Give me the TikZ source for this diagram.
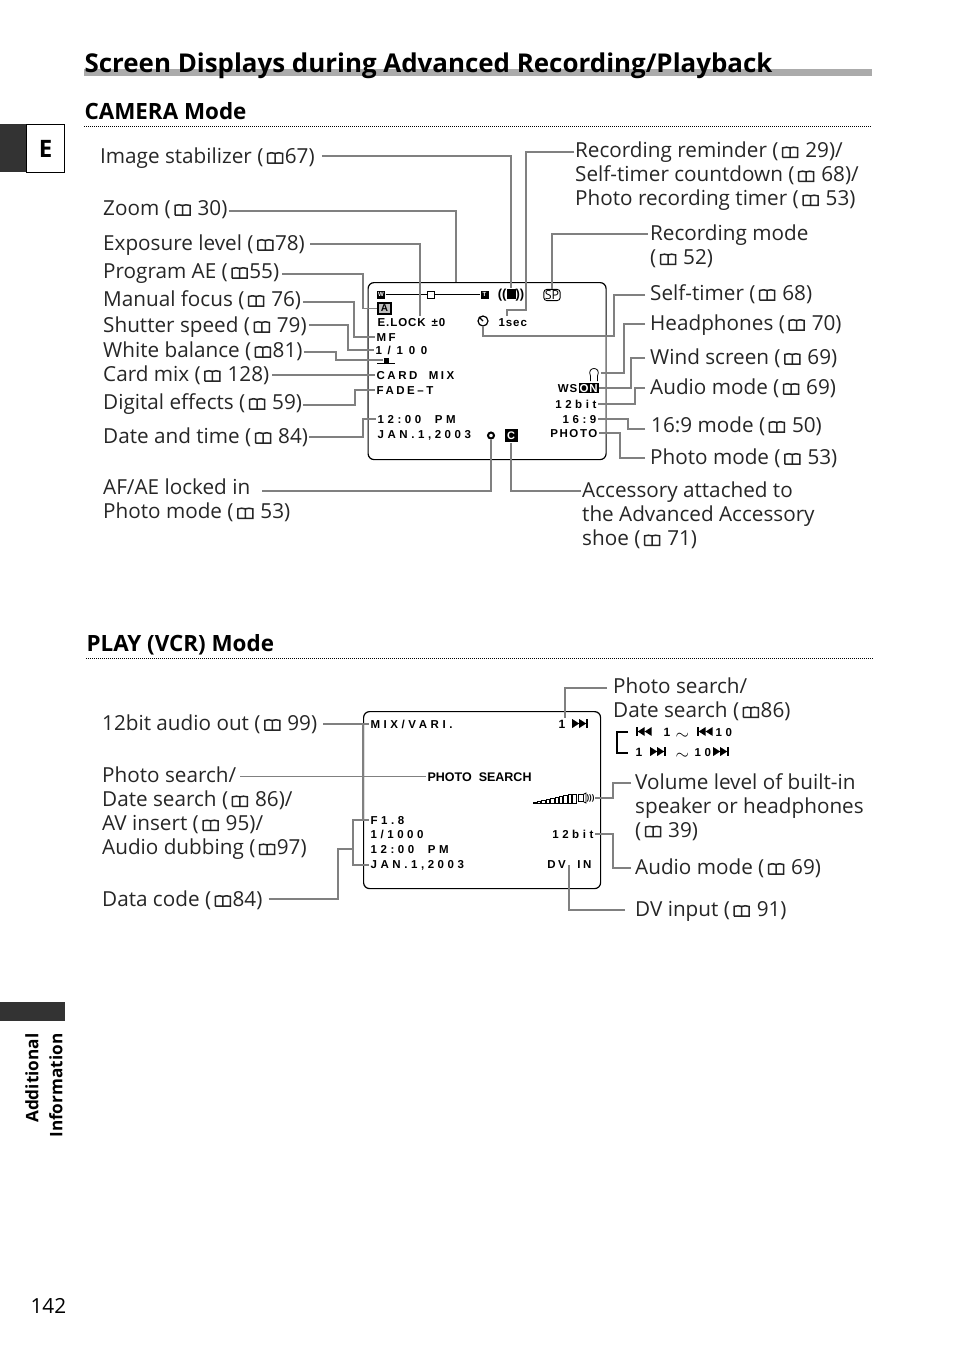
\documentclass[tikz,border=0pt]{standalone}
\usepackage{amsmath}
\usepackage{fontspec}
\setmainfont{Open Sans}
\newfontfamily\osdfont[LetterSpace=22]{Liberation Sans Bold}
\newfontfamily\osdwide[LetterSpace=31]{Liberation Sans Bold}
\newfontfamily\osdtight{Liberation Sans Bold}
\usetikzlibrary{calc}
\newcommand{\bk}{\hspace{3.5pt}\tikz[baseline=0pt,x=1pt,y=1pt]{\draw[line width=1.5pt] (0,0.5) -- (0,10) .. controls (2.5,11) and (5.5,11) .. (7.5,10) .. controls (9.5,11) and (12.5,11) .. (15,10) -- (15,0.5) -- (7.5,0.5) -- (0,0.5) (7.5,0.5) -- (7.5,10);}\hspace{1.5pt}}
\newcommand{\fwdicon}{\tikz[baseline=0pt,x=1pt,y=1pt]{\fill (0,0) -- (0,9) -- (7,4.5) -- cycle (7,0) -- (7,9) -- (14,4.5) -- cycle; \fill (14,0) rectangle (15.5,9);}}
\newcommand{\rewicon}{\tikz[baseline=0pt,x=1pt,y=1pt]{\fill (15.5,0) -- (15.5,9) -- (8.5,4.5) -- cycle (8.5,0) -- (8.5,9) -- (1.5,4.5) -- cycle; \fill (0,0) rectangle (1.5,9);}}
\begin{document}
\begin{tikzpicture}[x=1pt,y=-1pt,line width=1.2pt,
    lbl/.style={anchor=west,inner sep=0pt,font=\fontsize{20.7}{24}\selectfont,text=black!85,text height=19,text depth=4},
    multi/.style={anchor=north west,inner sep=0pt,align=left,font=\fontsize{20.7}{24}\selectfont,text=black!85},
    head/.style={anchor=base west,inner sep=0pt,font=\fontsize{22.4}{24}\selectfont\bfseries},
    osd/.style={anchor=base west,inner sep=1pt,font=\fontsize{11.5}{13}\osdwide},
    osdn/.style={anchor=base west,inner sep=1pt,font=\fontsize{11.5}{13}\osdfont},
    osdb/.style={anchor=base west,inner sep=1pt,font=\fontsize{12}{13}\osdtight},
    osdr/.style={anchor=base east,inner sep=1pt,font=\fontsize{11.5}{13}\osdwide},
    leader/.style={draw=black!50,line width=1.3pt},
    screen/.style={draw,rounded corners=6pt,line width=1.2pt,inner sep=0pt,anchor=north west},
    dots/.style={line width=1pt,dash pattern=on 1pt off 1pt}]
    \useasboundingbox (0,0) rectangle (954,1355);
    % page furniture
    \fill[black!33] (84,69) rectangle (872,76);
    \node (title) [head,font=\fontsize{25.9}{30}\selectfont\bfseries] at (84,72) {Screen Displays during Advanced Recording/Playback};
    \node (camhead) [head] at (84,119) {CAMERA Mode};
    \node (playhead) [head] at (86,651) {PLAY (VCR) Mode};
    \draw[dots] (84,126) -- (871,126);
    \draw[dots] (86,658) -- (873,658);
    \fill[black!80] (0,124) rectangle (26,172);
    \node (tab) [draw,anchor=north west,minimum width=38,minimum height=48,inner sep=0pt,font=\fontsize{24}{28}\selectfont\bfseries] at (26,124) {E};
    \fill[black!80] (0,1002) rectangle (65,1021);
    \node (addinfo) [rotate=90,align=right,anchor=east,inner sep=0pt,font=\fontsize{17.2}{24}\selectfont\bfseries] at (44,1033) {Additional\\Information};
    \node (pageno) [anchor=base west,inner sep=0pt,font=\fontsize{20.8}{24}\selectfont] at (30,1313) {142};

    % camera screen
    \node (camscreen) [screen,minimum width=238,minimum height=177] at (367.5,282) {};
    \node (wsq) [fill,text=white,inner sep=0pt,minimum size=8,font=\fontsize{6}{6}\osdtight] at (381,294.5) {W};
    \node (tsq) [fill,text=white,inner sep=0pt,minimum size=8,font=\fontsize{6}{6}\osdtight] at (484.5,294.5) {T};
    \draw[line width=1.6pt] (wsq) -- (tsq);
    \node (slider) [draw,fill=white,inner sep=0pt,minimum size=7,line width=1pt] at (431,294.5) {};
    \coordinate (zoomtop) at (456,282);
    \node (hand) [inner sep=0pt,font=\fontsize{13}{14}\osdtight] at (511,295) {((\rule{9pt}{10pt}))};
    \node (sp) [draw,rounded corners=3pt,inner sep=1pt,line width=.9pt,font=\fontsize{12.5}{13}\selectfont] at (552,295) {SP};
    \node (aeicon) [draw,fill=black!25,inner sep=1pt,minimum width=13,minimum height=11,font=\fontsize{10}{11}\osdtight] at (384.5,308.5) {A};
    \node (elock) [osdb,font=\fontsize{11.5}{13}\osdtight\addfontfeature{LetterSpace=8}] at (376,326) {E.LOCK \,±0};
    \node (onesec) [osdb,font=\fontsize{11.5}{13}\osdtight\addfontfeature{LetterSpace=8}] at (497,326) {1sec};
    \node (timer) [draw,circle,inner sep=0pt,minimum size=10,line width=1.2pt] at (483,321) {};
    \draw[line width=1.2pt] (timer.center) -- (timer.north west);
    \node (mf) [osdn] at (375,341) {MF};
    \node (speed) [osdn] at (374,354) {1 / 1 0 0};
    \node (wb) [fill,inner sep=0pt,minimum size=5] at (386,360) {};
    \draw[line width=.6pt] (377,363) -- (395,363);
    \node (cardtxt) [osdn] at (375,379) {CARD \ MIX};
    \node (fade) [osdn] at (375,394) {FADE–T};
    \node (clock) [osd] at (376,423) {12:00 \ PM};
    \node (date) [osd] at (376,438) {JAN.1,2003};
    \node (lockdot) [draw,circle,fill=white,inner sep=0pt,minimum size=6,line width=2pt] at (491,435.5) {};
    \node (shoe) [fill,text=white,inner sep=0pt,minimum size=13,font=\fontsize{11}{12}\osdtight] at (511,435.5) {C};
    \node (bulb) [inner sep=0pt,minimum size=12] at (594,373) {};
    \draw[line width=.8pt] (590.5,381) -- (590.5,376) .. controls (586,366) and (602,366) .. (597.5,376) -- (597.5,381);
    \node (ws) [anchor=base east,inner sep=0pt,font=\fontsize{11.5}{13}\osdtight\addfontfeature{LetterSpace=8}] at (578,392) {WS};
    \node (on) [anchor=base west,fill,text=white,inner sep=1pt,font=\fontsize{11.5}{13}\osdtight\addfontfeature{LetterSpace=8}] at (578,392) {ON};
    \node (bit) [osdr] at (598,408) {12bit};
    \node (wide) [osdr] at (598,423) {16:9};
    \node (photo) [anchor=base east,inner sep=1pt,font=\fontsize{11.5}{13}\osdtight\addfontfeature{LetterSpace=14}] at (599,437) {PHOTO};

    % camera labels
    \node (imgstab) [lbl] at (100,156) {Image stabilizer (\bk67)};
    \node (zoom) [lbl] at (103,208) {Zoom (\bk\ 30)};
    \node (exposure) [lbl] at (103,243) {Exposure level (\bk78)};
    \node (program) [lbl] at (103,271) {Program AE (\bk55)};
    \node (focus) [lbl] at (103,299) {Manual focus (\bk\ 76)};
    \node (shutter) [lbl] at (103,325) {Shutter speed (\bk\ 79)};
    \node (balance) [lbl] at (103,350) {White balance (\bk81)};
    \node (cardmix) [lbl] at (103,374) {Card mix (\bk\ 128)};
    \node (digital) [lbl] at (103,402) {Digital effects (\bk\ 59)};
    \node (datetime) [lbl] at (103,436) {Date and time (\bk\ 84)};
    \node (locked) [multi] at (103,479) {AF/AE locked in\\Photo mode (\bk\ 53)};
    \node (reminder) [multi] at (575,142) {Recording reminder (\bk\ 29)/\\Self-timer countdown (\bk\ 68)/\\Photo recording timer (\bk\ 53)};
    \node (recmode) [multi] at (650,225) {Recording mode\\(\bk\ 52)};
    \node (selftimer) [lbl] at (650,293) {Self-timer (\bk\ 68)};
    \node (phones) [lbl] at (650,323) {Headphones (\bk\ 70)};
    \node (windscr) [lbl] at (650,357) {Wind screen (\bk\ 69)};
    \node (audiomode) [lbl] at (650,387) {Audio mode (\bk\ 69)};
    \node (widemode) [lbl] at (651,425) {16:9 mode (\bk\ 50)};
    \node (photomode) [lbl] at (650,457) {Photo mode (\bk\ 53)};
    \node (accessory) [multi] at (582,482) {Accessory attached to\\the Advanced Accessory\\shoe (\bk\ 71)};

    % camera leaders
    \draw[leader] ([xshift=7]imgstab.east) -| (hand.north);
    \draw[leader] ([shift={(-1,10)}]reminder.north west) -| (526,310) -- (507,310) -- (onesec.north -| 507,0);
    \draw[leader] ([shift={(1,3)}]zoom.east) -| (zoomtop);
    \draw[leader] ([shift={(5,1)}]exposure.east) -| (elock.north -| 420,0);
    \draw[leader] ([shift={(3,3)}]program.east) -| (aeicon.west -| 363,0) -- (aeicon.west);
    \draw[leader] ([shift={(2,3)}]focus.east) -| (mf.west -| 354,0) -- (mf.west);
    \draw[leader] ([xshift=2]shutter.east) -| (speed.west -| 348,0) -- (speed.west);
    \draw[leader] ([shift={(1,2)}]balance.east) -| (wb.west -| 336,0) -- (wb.west);
    \draw[leader] ([xshift=3]cardtxt.west -| cardmix.east) -- (cardtxt.west);
    \draw[leader] ([shift={(1,3)}]digital.east) -| (fade.west -| 355,0) -- (fade.west);
    \draw[leader] ([shift={(1,1)}]datetime.east) -| (clock.west -| 363,0) -- (clock.west);
    \draw[leader] ([shift={(159,12)}]locked.north west) -| (lockdot.south);
    \draw[leader] ([shift={(-1,9)}]accessory.north west) -| (shoe.south);
    \draw[leader] ([shift={(-2,9)}]recmode.north west) -| (sp.north);
    \draw[leader] ([shift={(-5,2)}]selftimer.west) -| (614,336) -- (483,336) -- (timer.south);
    \draw[leader] ([shift={(-5,1)}]phones.west) -| (bulb.east -| 624,0) -- (bulb.east);
    \draw[leader] ([shift={(-5,1)}]windscr.west) -| (on.east -| 631,0) -- (on.east);
    \draw[leader] ([shift={(-5,1)}]audiomode.west) -| (bit.east -| 635,0) -- (bit.east);
    \draw[leader] ([shift={(-6,4)}]widemode.west) -| (wide.east -| 628,0) -- (wide.east);
    \draw[leader] ([shift={(-5,1)}]photomode.west) -| (photo.east -| 620,0) -- (photo.east);
    \draw[leader] (camscreen.west |- aeicon) -- (camscreen.west |- clock.west);
    \draw[leader] (camscreen.east |- 0,336) -- (camscreen.east |- photo.east);

    % play screen
    \node (playscreen) [screen,minimum width=237,minimum height=177] at (363,711) {};
    \node (mix) [osd] at (369,728) {MIX/VARI.};
    \node (counter) [osdb] at (557,728) {1};
    \node (skip) [inner sep=0pt,anchor=base west] at (572,728) {\fwdicon};
    \node (search) [anchor=base west,inner sep=1pt,font=\fontsize{12.5}{14}\osdtight] at (426,781) {PHOTO\ \ SEARCH};
    \coordinate (bars) at (533,803);
    \foreach \i in {0,...,9}
        \draw[line width=.8pt] ($(bars)+(\i*4.4,0)$) rectangle ++(3.4,{-1-\i*0.9});
    \node (speaker) [draw,inner sep=0pt,minimum width=5,minimum height=7,line width=.8pt] at (581,798) {};
    \draw[line width=.8pt] (speaker.north east) -- (586,793) -- (586,803) -- (speaker.south east);
    \node (waves) [inner sep=0pt,font=\fontsize{8}{9}\osdtight] at (590.5,798) {)))};
    \node (fnum) [osd] at (369,824) {F1.8};
    \node (speed2) [osd] at (369,838) {1/1000};
    \node (clock2) [osd] at (369,853) {12:00 \ PM};
    \node (date2) [osd] at (369,868) {JAN.1,2003};
    \node (bit2) [osdr] at (595,838) {12bit};
    \node (dvin) [anchor=base east,inner sep=1pt,font=\fontsize{11.5}{13}\osdfont] at (593,868) {DV \ IN};

    % play labels
    \node (audioout) [lbl] at (102,723) {12bit audio out (\bk\ 99)};
    \node (searchlbl) [multi] at (102,767) {Photo search/\\Date search (\bk\ 86)/\\AV insert (\bk\ 95)/\\Audio dubbing (\bk97)};
    \node (datacode) [lbl] at (102,899) {Data code (\bk84)};
    \node (photosearch) [multi] at (613,678) {Photo search/\\Date search (\bk86)};
    \node (volume) [multi] at (635,773) {Volume level of built-in\\speaker or headphones\\(\bk\ 39)};
    \node (audio2) [lbl] at (635,867) {Audio mode (\bk\ 69)};
    \node (dvinput) [lbl] at (635,909) {DV input (\bk\ 91)};

    % search speed legend
    \coordinate (brtop) at (628,732);
    \coordinate (brbot) at (628,753);
    \draw[line width=2pt] (brtop) -- (617,732) -- (617,753) -- (brbot);
    \node (rewa) [inner sep=0pt,anchor=base west] at (636,736) {\rewicon};
    \node (onea) [osdb] at (662,736) {1};
    \node (tildea) [inner sep=0pt,anchor=base west,font=\fontsize{18}{18}\selectfont] at (675,739) {$\sim$};
    \node (rewb) [inner sep=0pt,anchor=base west] at (697,736) {\rewicon};
    \node (tena) [osd] at (714,736) {10};
    \node (oneb) [osdb] at (634,756) {1};
    \node (fwda) [inner sep=0pt,anchor=base west] at (650,756) {\fwdicon};
    \node (tildeb) [inner sep=0pt,anchor=base west,font=\fontsize{18}{18}\selectfont] at (675,759) {$\sim$};
    \node (tenb) [osd] at (693,756) {10};
    \node (fwdb) [inner sep=0pt,anchor=base west] at (713,756) {\fwdicon};

    % play leaders
    \draw[leader] ($(mix.west -| audioout.east)+(6,0)$) -- (mix.west);
    \draw[leader] (search.west -| 240,0) -- (search.west);
    \draw[leader] ([xshift=6]datacode.east) -| (338,849) -- (353,849);
    \draw[leader] (fnum.west) -| (date2.west -| 353,0) -- (date2.west);
    \draw[leader] (mix.west -| 363,0) -- (fnum.west -| 363,0);
    \draw[leader] ([shift={(-6,10)}]photosearch.north west) -| (counter.north -| 565,0);
    \draw[leader] ([shift={(-4,10)}]volume.north west) -| (waves.east -| 613,0) -- (waves.east);
    \draw[leader] ([shift={(-4,1)}]audio2.west) -| (bit2.east -| 613,0) -- (bit2.east);
    \draw[leader] ([shift={(-10,1)}]dvinput.west) -| ([yshift=5]dvin.south -| 569,0);
\end{tikzpicture}
\end{document}
